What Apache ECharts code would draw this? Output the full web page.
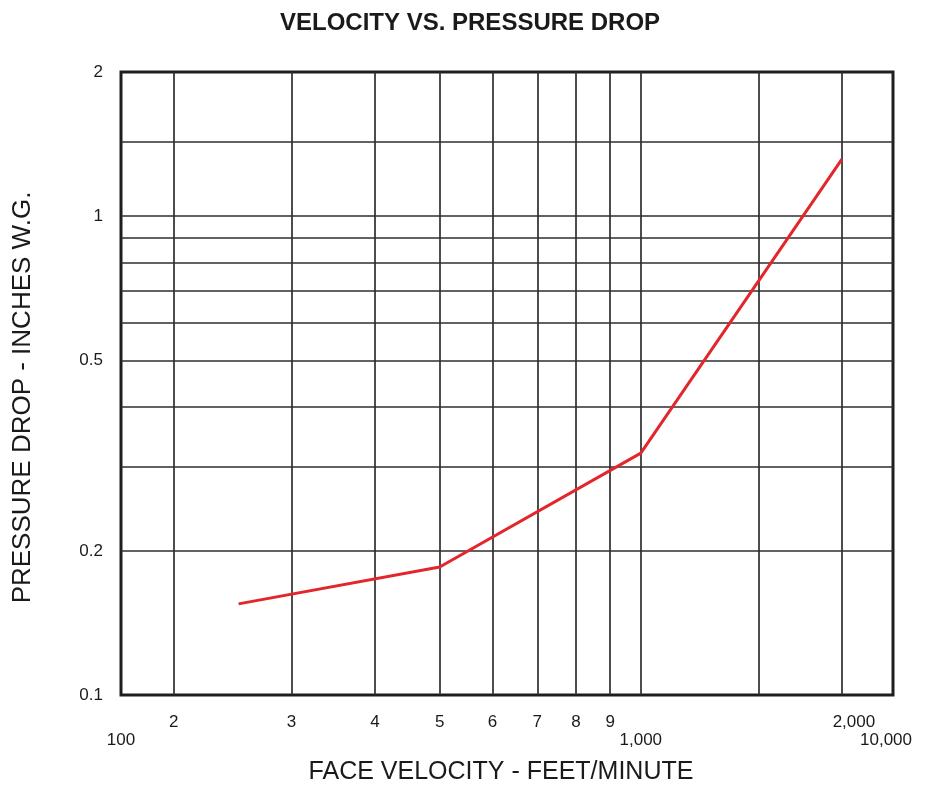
<!DOCTYPE html>
<html>
<head>
<meta charset="utf-8">
<script src="https://cdn.jsdelivr.net/npm/echarts@6/dist/echarts.min.js"></script>
<style>html,body{margin:0;padding:0;background:#fff}#chart{width:925px;height:785px}</style>
</head>
<body>
<div id="chart"></div>
<script>
// ---- data ----
const velocity = [250, 500, 1000, 2000];
const pressureDrop = [0.155, 0.185, 0.32, 1.315];

// axis extents (as printed on the original chart)
const xMin = 166.7, xMax = 2385;
const yMin = 0.1, yMax = 2;

// grid lines
const xGridValues = [200, 300, 400, 500, 600, 700, 800, 900, 1000, 1500, 2000];
const yGridValues = [0.2, 0.3, 0.4, 0.5, 0.6, 0.7, 0.8, 0.9, 1, 1.43];

// tick labels
const xUpperTicks = [200, 300, 400, 500, 600, 700, 800, 900, 2000];
const xUpperLabels = ['2', '3', '4', '5', '6', '7', '8', '9', '2,000'];
const xLowerTicks = [xMin, 1000, xMax];
const xLowerLabels = ['100', '1,000', '10,000'];
const yTicks = [0.1, 0.2, 0.5, 1, 2];
const yLabels = ['0.1', '0.2', '0.5', '1', '2'];

const FONT = "'Liberation Sans', Arial, sans-serif";
const TXT = '#1a1a1a';
const chart = echarts.init(document.getElementById('chart'));

function lookup(ticks, labels, v) {
  for (let i = 0; i < ticks.length; i++) {
    if (Math.abs(ticks[i] - v) / ticks[i] < 1e-3) return labels[i];
  }
  return '';
}

const option = {
  animation: false,
  backgroundColor: '#fff',
  title: {
    text: 'VELOCITY VS. PRESSURE DROP',
    left: 275,
    top: 6,
    textStyle: { fontFamily: FONT, fontWeight: 'bold', fontSize: 24, color: TXT }
  },
  grid: {
    left: 121, right: 32, top: 72, bottom: 90,
    containLabel: false, outerBoundsMode: 'none',
    show: true, borderColor: '#1e1e1e', borderWidth: 3, backgroundColor: 'transparent'
  },
  xAxis: [
    {
      type: 'log', min: xMin, max: xMax, logBase: 10,
      name: 'FACE VELOCITY - FEET/MINUTE', nameLocation: 'middle', nameGap: 65,
      nameTextStyle: { fontFamily: FONT, fontSize: 25, color: TXT, padding: [0, 12, 0, 0] },
      axisLine: { show: false }, axisTick: { show: false }, splitLine: { show: false },
      axisLabel: {
        customValues: xUpperTicks, margin: 19,
        fontFamily: FONT, fontSize: 17, color: TXT,
        formatter: function (v) {
          const t = lookup(xUpperTicks, xUpperLabels, v);
          return t === '2,000' ? '{r|' + t + '}' : t;
        },
        rich: { r: { padding: [0, 0, 0, 24], fontFamily: FONT, fontSize: 17, color: TXT } }
      }
    },
    {
      type: 'log', min: xMin, max: xMax, logBase: 10, position: 'bottom',
      axisLine: { show: false }, axisTick: { show: false }, splitLine: { show: false },
      axisLabel: {
        customValues: xLowerTicks, margin: 37,
        fontFamily: FONT, fontSize: 17, color: TXT,
        formatter: function (v) {
          const t = lookup(xLowerTicks, xLowerLabels, v);
          return t === '10,000' ? '{l|' + t + '}' : t;
        },
        rich: { l: { padding: [0, 14, 0, 0], fontFamily: FONT, fontSize: 17, color: TXT } }
      }
    }
  ],
  yAxis: {
    type: 'log', min: yMin, max: yMax, logBase: 10,
    name: 'PRESSURE DROP - INCHES W.G.', nameLocation: 'middle', nameGap: 85, nameRotate: 90,
    nameTextStyle: { fontFamily: FONT, fontSize: 26, color: TXT, padding: [0, 28, 0, 0] },
    axisLine: { show: false }, axisTick: { show: false }, splitLine: { show: false },
    axisLabel: {
      customValues: yTicks, margin: 18,
      fontFamily: FONT, fontSize: 17, color: TXT,
      formatter: function (v) { return lookup(yTicks, yLabels, v); }
    }
  },
  series: [
    {
      type: 'line',
      xAxisIndex: 0,
      data: velocity.map((v, i) => [v, pressureDrop[i]]),
      showSymbol: false,
      lineStyle: { color: '#e3262b', width: 3 },
      z: 5,
      markLine: {
        silent: true, symbol: ['none', 'none'], animation: false,
        label: { show: false },
        lineStyle: { color: '#2e2e2e', width: 1.7, type: 'solid' },
        data: xGridValues.map(v => ({ xAxis: v })).concat(yGridValues.map(v => ({ yAxis: v })))
      }
    }
  ]
};
chart.setOption(option);
</script>
</body>
</html>
